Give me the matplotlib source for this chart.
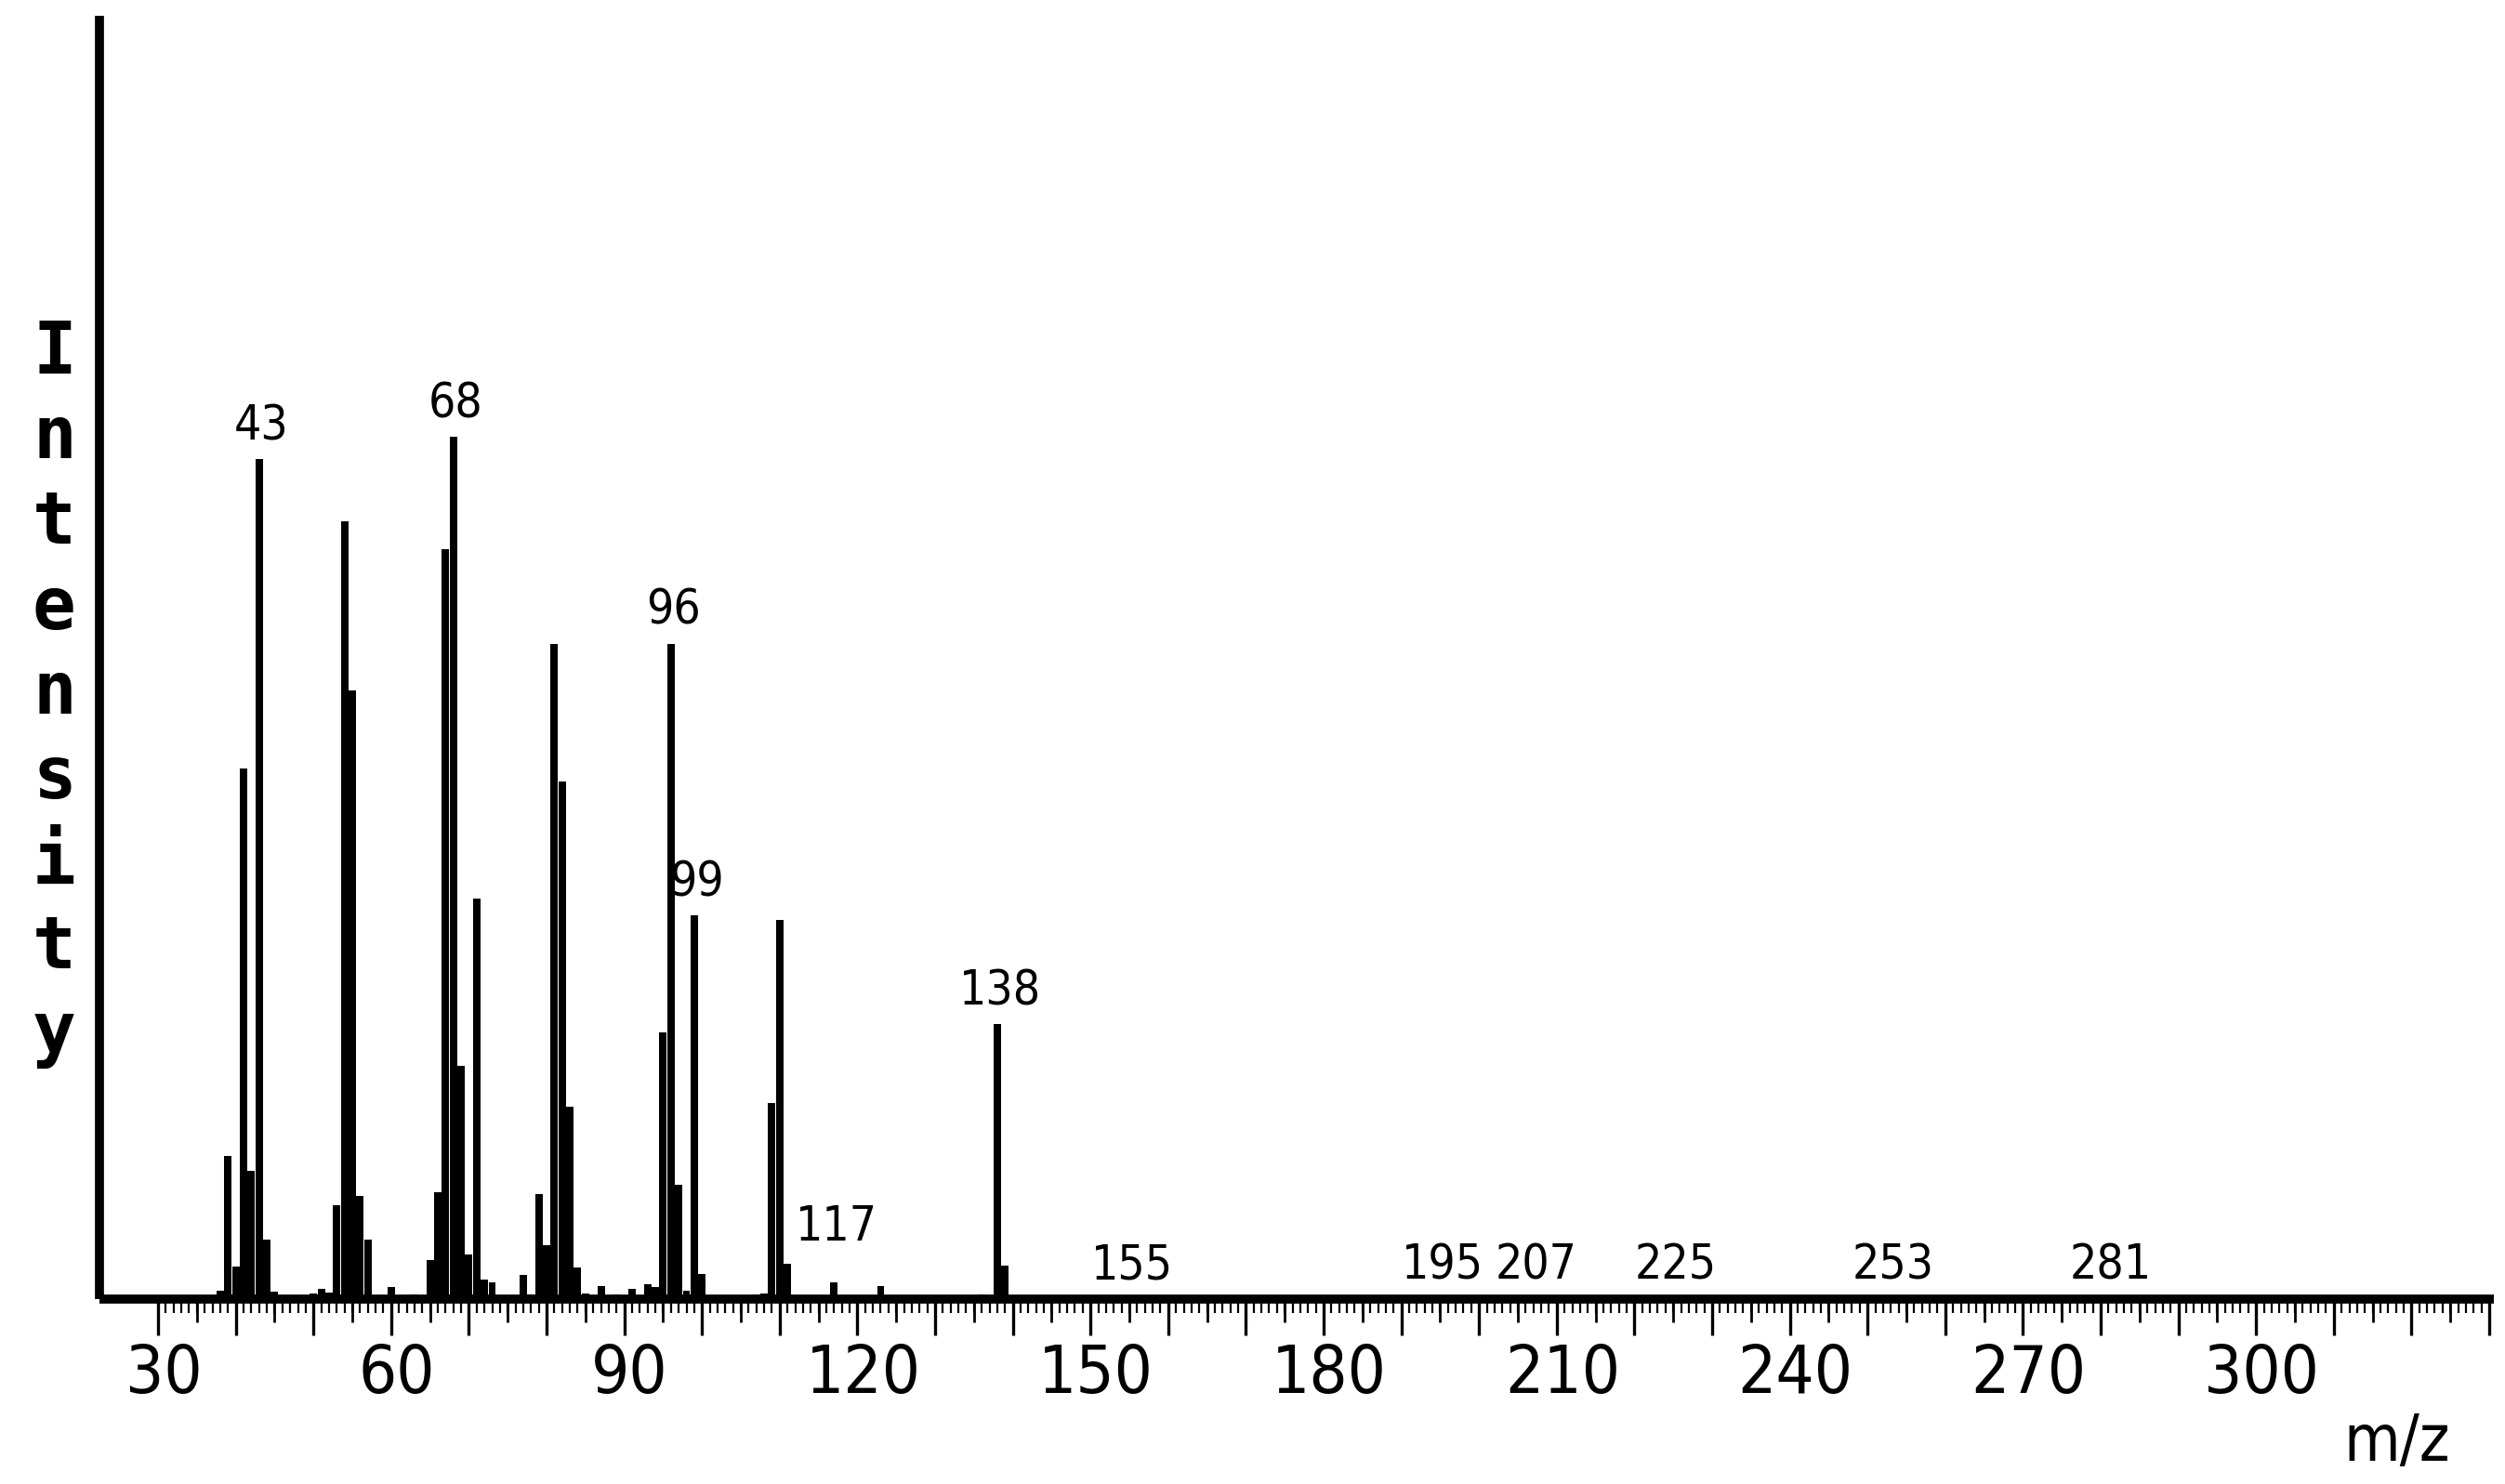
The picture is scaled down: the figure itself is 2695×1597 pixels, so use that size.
import matplotlib
matplotlib.use("Agg")
import matplotlib.pyplot as plt
import matplotlib.transforms as mtransforms
from matplotlib.ticker import MultipleLocator, FixedLocator, NullFormatter

# mass spectrum, relative intensity (%)
mz = [38, 39, 40, 41, 42, 43, 44, 45,
      50, 51, 52, 53, 54, 55, 56, 57, 58, 59, 60, 61, 63,
      65, 66, 67, 68, 69, 70, 71, 72, 73, 74, 75, 77, 78,
      79, 80, 81, 82, 83, 84, 85, 86, 87, 89, 91, 92, 93, 94,
      95, 96, 97, 98, 99, 100, 101, 107, 108, 109, 110, 111, 112,
      115, 116, 117, 118, 123, 127, 136, 137, 138, 139,
      155, 195, 207, 225, 253, 281]
intensity = [1.0, 16.6, 3.8, 61.5, 14.9, 97.4, 6.9, 0.9,
             0.6, 1.2, 0.8, 10.9, 90.2, 70.6, 12.0, 6.9, 0.4, 0.4, 1.4, 0.4, 0.5,
             4.5, 12.4, 86.9, 100.0, 27.0, 5.2, 46.4, 2.3, 1.9, 0.4, 0.4, 2.8, 0.5,
             12.2, 6.2, 76.0, 60.0, 22.3, 3.7, 0.7, 0.4, 1.5, 0.5, 1.2, 0.4, 1.7, 1.4,
             30.9, 76.0, 13.2, 1.0, 44.5, 2.9, 0.4, 0.5, 0.6, 22.7, 44.0, 4.1, 0.4,
             0.4, 0.4, 1.9, 0.3, 1.5, 0.4, 0.5, 0.4, 31.9, 3.9,
             0.1, 0.1, 0.1, 0.1, 0.1, 0.1]

peak_labels = [43, 68, 96, 99, 117, 138, 155, 195, 207, 225, 253, 281]
tick_labels = [30, 60, 90, 120, 150, 180, 210, 240, 270, 300]
ylabel_text = "Intensity"

W, H, DPI = 2695, 1597, 100
fig = plt.figure(figsize=(W / DPI, H / DPI), dpi=DPI)
ax = fig.add_axes([107 / W, (H - 1398) / H, (2683 - 107) / W, (1398 - 17) / H])

ax.bar(mz, intensity, width=0.95, color="black", linewidth=0)

ax.set_xlim(22.46, 330.6)
ax.set_ylim(0, 148.8)

for side in ("top", "right"):
    ax.spines[side].set_visible(False)
for side in ("left", "bottom"):
    ax.spines[side].set_linewidth(7)
    ax.spines[side].set_capstyle("butt")

ax.yaxis.set_visible(False)

# long ticks every 10, short every 1, labels only every 30
ax.xaxis.set_minor_locator(FixedLocator(list(range(30, 331))))
ax.xaxis.set_minor_formatter(NullFormatter())
ax.set_xticks(list(range(30, 331, 10)))
ax.set_xticklabels([str(v) if v in tick_labels else "" for v in range(30, 331, 10)])
ax.tick_params(axis="x", which="major", length=28, width=2.4, pad=6,
               labelsize=52, direction="out")
ax.tick_params(axis="x", which="minor", length=11, width=1.6, direction="out")
for lab in ax.get_xticklabels():
    lab.set_fontstretch("condensed")
    lab.set_transform(lab.get_transform() +
                      mtransforms.ScaledTranslation(6 / DPI, 0, fig.dpi_scale_trans))

# medium ticks every 5
sec = ax.secondary_xaxis("bottom")
sec.set_xticks([v for v in range(35, 331, 10)])
sec.tick_params(axis="x", length=18, width=2.0, labelbottom=False, direction="out")
sec.spines["bottom"].set_visible(False)

# peak labels
lookup = dict(zip(mz, intensity))
for m in peak_labels:
    gap = 25 if m == 117 else 7
    ax.annotate(str(m), (m, lookup[m]), xytext=(2, gap), textcoords="offset points",
                ha="center", va="bottom", fontsize=37, fontstretch="condensed")

# stacked y label
for i, ch in enumerate(ylabel_text):
    fig.text(35 / W, 1 - (402 + 91.5 * i) / H, ch, ha="left", va="baseline",
             fontsize=56, fontweight="bold", family="DejaVu Sans Mono")

fig.text(2579 / W, 1 - 1553 / H, "m/z", ha="center", va="center",
         fontsize=50, fontstretch="condensed")

fig.savefig("out.png", dpi=DPI)
